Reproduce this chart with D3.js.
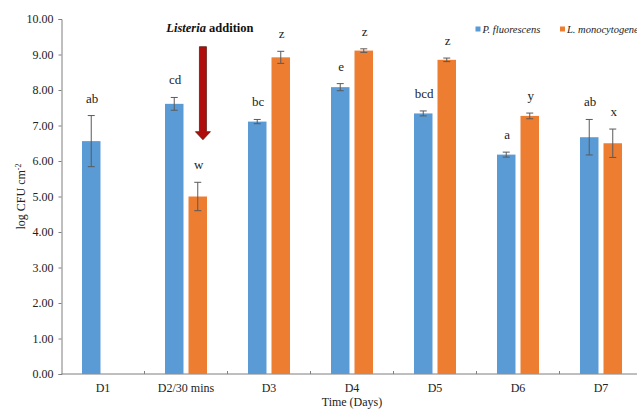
<!DOCTYPE html>
<html>
<head>
<meta charset="utf-8">
<script src="https://cdn.jsdelivr.net/npm/d3@7"></script>
<style>
  html, body { margin: 0; padding: 0; background: #fff; }
  svg { display: block; font-family: "Liberation Serif", "Times New Roman", serif; }
</style>
</head>
<body>
<svg id="chart" width="637" height="409"></svg>
<script>
// Bacterial counts (log CFU cm-2) over the sampling days
const categories = ["D1", "D2/30 mins", "D3", "D4", "D5", "D6", "D7"];
const seriesNames = ["P. fluorescens", "L. monocytogenes"];
const pfMean = [6.56, 7.61, 7.11, 8.08, 7.34, 6.18, 6.67];
const pfErr  = [0.72, 0.18, 0.06, 0.10, 0.07, 0.07, 0.50];
const lmMean = [null, 5.00, 8.92, 9.11, 8.85, 7.27, 6.50];
const lmErr  = [null, 0.40, 0.17, 0.05, 0.05, 0.08, 0.40];
const pfLetters = ["ab", "cd", "bc", "e", "bcd", "a", "ab"];
const lmLetters = [null, "w", "z", "z", "z", "y", "x"];
const yTicks = [0, 1, 2, 3, 4, 5, 6, 7, 8, 9, 10];
const additionDay = "D2/30 mins";
const arrowFrom = 9.22, arrowTo = 6.6;

const colors = { pf: "#5b9bd5", lm: "#ed7d31" };

const svg = d3.select("#chart");
const plot = { left: 61.5, right: 642.5, top: 19, bottom: 374 };

const x0 = d3.scaleBand().domain(categories).range([plot.left, plot.right]).padding(0);
const bw = x0.bandwidth();
const x1 = d3.scaleBand().domain(["pf", "lm"])
  .range([bw * 0.247, bw * 0.753]).paddingInner(0.213).paddingOuter(0);
const y = d3.scaleLinear().domain([0, 10]).range([plot.bottom, plot.top]);

const rows = categories.map((c, i) => ({
  cat: c,
  values: [
    { key: "pf", mean: pfMean[i], err: pfErr[i], letter: pfLetters[i] },
    { key: "lm", mean: lmMean[i], err: lmErr[i], letter: lmLetters[i] }
  ].filter(d => d.mean != null)
}));

// Y axis
const yAxis = svg.append("g")
  .attr("transform", `translate(${plot.left},0)`)
  .call(d3.axisLeft(y).tickValues(yTicks).tickSize(3).tickPadding(5).tickFormat(d3.format(".2f")));
yAxis.select(".domain").attr("stroke", "#7f7f7f");
yAxis.selectAll(".tick line").attr("stroke", "#7f7f7f");
yAxis.selectAll(".tick text").attr("fill", "#222").style("font-size", "12px")
  .style("font-family", "Liberation Serif, serif");

// X axis (ticks between categories, pointing inward)
const xAxisG = svg.append("g").attr("transform", `translate(0,${plot.bottom})`);
xAxisG.append("line").attr("x1", plot.left).attr("x2", plot.right)
  .attr("y1", 0).attr("y2", 0).attr("stroke", "#7f7f7f");
xAxisG.selectAll("line.sep").data(categories.slice(1)).join("line")
  .attr("class", "sep")
  .attr("x1", d => x0(d)).attr("x2", d => x0(d))
  .attr("y1", 0).attr("y2", -3).attr("stroke", "#7f7f7f");
xAxisG.selectAll("text").data(categories).join("text")
  .attr("x", d => x0(d) + bw / 2).attr("y", 17.5)
  .attr("text-anchor", "middle").attr("fill", "#222").style("font-size", "12px")
  .text(d => d);

// Bars, error bars and significance letters
const groups = svg.append("g").selectAll("g").data(rows).join("g")
  .attr("transform", d => `translate(${x0(d.cat)},0)`);

groups.selectAll("rect").data(d => d.values).join("rect")
  .attr("x", d => x1(d.key)).attr("width", x1.bandwidth())
  .attr("y", d => y(d.mean)).attr("height", d => y(0) - y(d.mean))
  .attr("fill", d => colors[d.key]);

const eb = groups.selectAll("g.err").data(d => d.values).join("g").attr("class", "err")
  .attr("stroke", "#5a5a5a").attr("stroke-width", 1);
eb.append("line")
  .attr("x1", d => x1(d.key) + x1.bandwidth() / 2).attr("x2", d => x1(d.key) + x1.bandwidth() / 2)
  .attr("y1", d => y(d.mean + d.err)).attr("y2", d => y(d.mean - d.err));
eb.append("line")
  .attr("x1", d => x1(d.key) + x1.bandwidth() / 2 - 3.5).attr("x2", d => x1(d.key) + x1.bandwidth() / 2 + 3.5)
  .attr("y1", d => y(d.mean + d.err)).attr("y2", d => y(d.mean + d.err));
eb.append("line")
  .attr("x1", d => x1(d.key) + x1.bandwidth() / 2 - 3.5).attr("x2", d => x1(d.key) + x1.bandwidth() / 2 + 3.5)
  .attr("y1", d => y(d.mean - d.err)).attr("y2", d => y(d.mean - d.err));

groups.selectAll("text.letter").data(d => d.values).join("text")
  .attr("class", "letter")
  .attr("x", d => x1(d.key) + x1.bandwidth() / 2 + 1)
  .attr("y", d => y(d.mean + d.err) - 13)
  .attr("text-anchor", "middle").attr("fill", "#222").style("font-size", "13px")
  .text(d => d.letter);

// Listeria addition annotation
const ax = x0(additionDay) + x1("lm") + x1.bandwidth() * 0.78;
const yTop = y(arrowFrom), yTip = y(arrowTo);
const shaftW = 3.5, headW = 7.5, headH = 8;
svg.append("path")
  .attr("d", `M${ax - shaftW},${yTop} L${ax + shaftW},${yTop} L${ax + shaftW},${yTip - headH}
              L${ax + headW},${yTip - headH} L${ax},${yTip} L${ax - headW},${yTip - headH}
              L${ax - shaftW},${yTip - headH} Z`)
  .attr("fill", "#b00d0d").attr("stroke", "#5e1a10").attr("stroke-width", 0.8);

const ann = svg.append("text").attr("x", ax + 7).attr("y", 32)
  .attr("text-anchor", "middle").attr("fill", "#111")
  .style("font-size", "12.5px").style("font-weight", "bold");
ann.append("tspan").style("font-style", "italic").text("Listeria");
ann.append("tspan").text(" addition");

// Legend
const legend = svg.append("g");
const legendX = [475.5, 560];
seriesNames.forEach((name, i) => {
  const key = i === 0 ? "pf" : "lm";
  legend.append("rect").attr("x", legendX[i]).attr("y", 26.5).attr("width", 5).attr("height", 5)
    .attr("fill", colors[key]);
  legend.append("text").attr("x", legendX[i] + 7).attr("y", 32.5)
    .attr("fill", "#222").style("font-size", "10.5px").style("font-style", "italic")
    .text(name);
});

// Axis titles
const yt = svg.append("text")
  .attr("transform", `translate(25,${(plot.top + plot.bottom) / 2}) rotate(-90)`)
  .attr("text-anchor", "middle").attr("fill", "#222").style("font-size", "12px");
yt.append("tspan").text("log CFU cm");
yt.append("tspan").attr("dy", -4).style("font-size", "8px").text("-2");

svg.append("text").attr("x", (plot.left + plot.right) / 2).attr("y", 406)
  .attr("text-anchor", "middle").attr("fill", "#222").style("font-size", "12px")
  .text("Time (Days)");
</script>
</body>
</html>
